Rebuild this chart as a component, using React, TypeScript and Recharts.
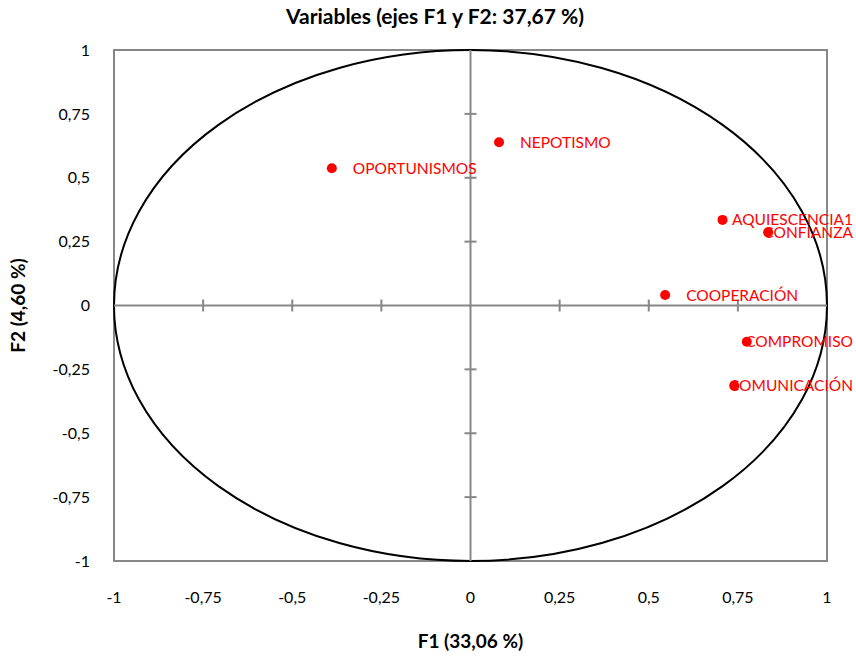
import { ScatterChart, Scatter, XAxis, YAxis, ReferenceLine, ReferenceArea } from "recharts";

const variables = ["OPORTUNISMOS", "NEPOTISMO", "AQUIESCENCIA1", "CONFIANZA", "COOPERACIÓN", "COMPROMISO", "COMUNICACIÓN"];
const f1Values = [-0.389, 0.08, 0.707, 0.835, 0.546, 0.775, 0.74];
const f2Values = [0.537, 0.639, 0.335, 0.287, 0.041, -0.142, -0.314];
const axisTicks = [-1, -0.75, -0.5, -0.25, 0, 0.25, 0.5, 0.75, 1];
const innerTicks = [-0.75, -0.5, -0.25, 0.25, 0.5, 0.75];

const points = variables.map((name, i) => ({ name, f1: f1Values[i], f2: f2Values[i] }));

const FONT = "Lato, 'Open Sans', sans-serif";
const LABEL_SIZE = 15.5;
const RIGHT_LIMIT = 853;
const GRAY = "#878787";

const ctx = typeof document !== "undefined" ? document.createElement("canvas").getContext("2d") : null;
function textWidth(s: string) {
  if (!ctx) return s.length * 9;
  ctx.font = `${LABEL_SIZE}px Lato`;
  return ctx.measureText(s).width;
}

const fmt = (v: number) => String(v).replace(".", ",");

function VariablePoint(props: any) {
  const { cx, cy, payload } = props;
  const w = textWidth(payload.name);
  let tx = cx + 21;
  if (tx + w > RIGHT_LIMIT) tx = RIGHT_LIMIT - w;
  return (
    <g>
      <circle cx={cx} cy={cy} r={5} fill="#ff0000" />
      <text x={tx} y={cy} dy="0.36em" fontSize={LABEL_SIZE} fontFamily={FONT} fill="#ff0000">
        {payload.name}
      </text>
    </g>
  );
}

function UnitCircle(props: any) {
  const { x, y, width, height } = props;
  return (
    <ellipse
      cx={x + width / 2}
      cy={y + height / 2}
      rx={width / 2}
      ry={height / 2}
      fill="none"
      stroke="#000"
      strokeWidth={2}
    />
  );
}

export default function App() {
  const tick = { fontSize: 16, fill: "#000", fontFamily: FONT };
  const titleStyle = { fontSize: 19, fontWeight: 700, fill: "#000", fontFamily: FONT };
  return (
    <div style={{ position: "absolute", left: 0, top: 0, width: 856, height: 656, background: "#fff" }}>
      <div
        style={{
          position: "absolute",
          left: 435,
          top: 3,
          transform: "translateX(-50%)",
          whiteSpace: "nowrap",
          fontFamily: FONT,
          fontWeight: 700,
          fontSize: 21,
          color: "#000",
        }}
      >
        Variables (ejes F1 y F2: 37,67 %)
      </div>
      <ScatterChart width={856} height={656} margin={{ top: 50, right: 29, bottom: 0, left: 0 }}>
        <XAxis
          type="number"
          dataKey="f1"
          domain={[-1, 1]}
          ticks={axisTicks}
          tickFormatter={fmt}
          axisLine={false}
          tickLine={false}
          tickSize={0}
          tickMargin={31}
          tick={tick}
          height={95}
          interval={0}
          label={{ value: "F1 (33,06 %)", position: "insideBottom", offset: 8, style: titleStyle }}
        />
        <YAxis
          type="number"
          dataKey="f2"
          domain={[-1, 1]}
          ticks={axisTicks}
          tickFormatter={fmt}
          axisLine={false}
          tickLine={false}
          tickSize={0}
          tickMargin={24}
          tick={tick}
          width={114}
          interval={0}
          label={{
            value: "F2 (4,60 %)",
            position: "insideLeft",
            angle: -90,
            offset: 18,
            style: { ...titleStyle, textAnchor: "middle" },
          }}
        />
        <ReferenceArea x1={-1} x2={1} y1={-1} y2={1} fill="none" fillOpacity={0} stroke={GRAY} strokeWidth={2} />
        <ReferenceLine x={0} stroke={GRAY} strokeWidth={2} />
        <ReferenceLine y={0} stroke={GRAY} strokeWidth={2} />
        {innerTicks.map((t) => (
          <ReferenceLine
            key={`xt${t}`}
            segment={[
              { x: t, y: -0.0235 },
              { x: t, y: 0.0235 },
            ]}
            stroke={GRAY}
            strokeWidth={2}
          />
        ))}
        {innerTicks.map((t) => (
          <ReferenceLine
            key={`yt${t}`}
            segment={[
              { x: -0.0168, y: t },
              { x: 0.0168, y: t },
            ]}
            stroke={GRAY}
            strokeWidth={2}
          />
        ))}
        <ReferenceArea x1={-1} x2={1} y1={-1} y2={1} shape={UnitCircle} />
        <Scatter data={points} shape={VariablePoint} isAnimationActive={false} />
      </ScatterChart>
    </div>
  );
}
